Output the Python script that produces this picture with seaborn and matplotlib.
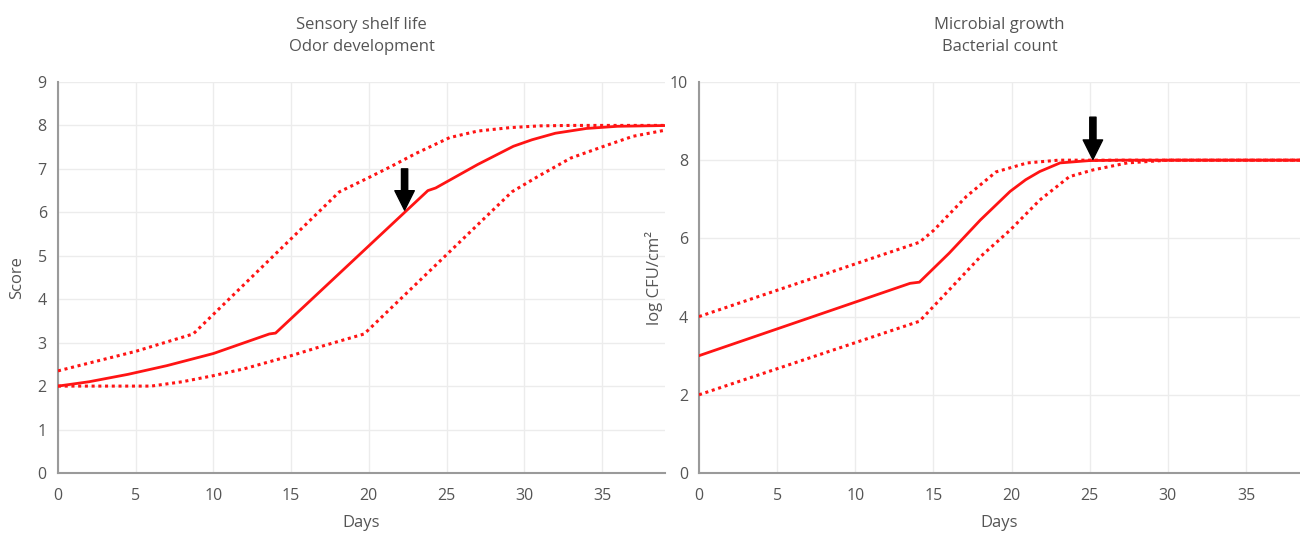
import matplotlib
matplotlib.use("Agg")
import matplotlib.pyplot as plt
import seaborn as sns

# Sensory shelf life - odor score
odor_days = [0, 2, 4.5, 7, 10, 12, 13.6, 14, 23.8, 24.3, 27, 29.3, 30.5, 32, 34, 36, 39.5]
odor_mid = [2.0, 2.1, 2.27, 2.47, 2.75, 3.0, 3.2, 3.22, 6.5, 6.56, 7.1, 7.52, 7.67, 7.82, 7.93, 7.98, 8.0]
odor_up_days = [0, 5, 8.7, 18.1, 20, 21.4, 23, 25.2, 27, 29.1, 31, 33, 39.5]
odor_up = [2.35, 2.8, 3.2, 6.47, 6.8, 7.05, 7.35, 7.72, 7.87, 7.95, 7.99, 8.0, 8.0]
odor_lo_days = [0, 6, 8, 10, 12, 15, 17, 19.7, 29.2, 31, 33, 35.2, 37, 39.5]
odor_lo = [2.0, 2.0, 2.1, 2.24, 2.4, 2.7, 2.92, 3.2, 6.47, 6.85, 7.25, 7.53, 7.75, 7.92]

# Microbial growth - bacterial count
cfu_days = [0, 13.5, 14.1, 16, 18, 19.9, 20.9, 21.8, 23.1, 25, 27, 39.5]
cfu_mid = [3.0, 4.85, 4.88, 5.62, 6.47, 7.2, 7.5, 7.71, 7.93, 7.99, 8.0, 8.0]
cfu_up_days = [0, 14.1, 15, 17.1, 19, 21, 23, 39.5]
cfu_up = [4.0, 5.9, 6.2, 7.07, 7.7, 7.93, 8.0, 8.0]
cfu_lo_days = [0, 14.1, 16, 18, 19.9, 21.8, 23.7, 25.2, 27.4, 30, 39.5]
cfu_lo = [2.0, 3.88, 4.68, 5.53, 6.21, 6.98, 7.58, 7.75, 7.93, 8.0, 8.0]

sns.set_style("white")
plt.rcParams["font.family"] = ["Open Sans", "DejaVu Sans"]

red = "#ff1414"
txt = "#555555"

fig = plt.figure(figsize=(13, 5.33), dpi=100)
ax1 = fig.add_axes([0.0446, 0.1126, 0.467, 0.7336])
ax2 = fig.add_axes([0.5377, 0.1126, 0.4623, 0.7336])


def draw(ax, days, mid, up_days, up, lo_days, lo):
    sns.lineplot(x=days, y=mid, ax=ax, color=red, lw=2, zorder=3)
    sns.lineplot(x=up_days, y=up, ax=ax, color=red, lw=2.2, linestyle=(0, (1, 1.2)), zorder=3)
    sns.lineplot(x=lo_days, y=lo, ax=ax, color=red, lw=2.2, linestyle=(0, (1, 1.2)), zorder=3)


draw(ax1, odor_days, odor_mid, odor_up_days, odor_up, odor_lo_days, odor_lo)
draw(ax2, cfu_days, cfu_mid, cfu_up_days, cfu_up, cfu_lo_days, cfu_lo)

ax1.set_xlim(0, 39.06)
ax1.set_ylim(0, 9)
ax1.set_yticks(range(0, 10))
ax2.set_xlim(0, 38.45)
ax2.set_ylim(0, 10)
ax2.set_yticks(range(0, 11, 2))

for ax in (ax1, ax2):
    ax.set_xticks(range(0, 40, 5))
    ax.grid(True, color="#ececec", lw=1)
    ax.set_axisbelow(True)
    for s in ("top", "right"):
        ax.spines[s].set_visible(False)
    for s in ("left", "bottom"):
        ax.spines[s].set_color("#9a9a9a")
        ax.spines[s].set_linewidth(1.5)
    ax.tick_params(axis="x", length=0, labelsize=11.5, labelcolor=txt, pad=11)
    ax.tick_params(axis="y", length=0, labelsize=11.5, labelcolor=txt, pad=8)
    ax.set_xlabel("Days", fontsize=12, color=txt, labelpad=8)
    ax.patch.set_alpha(0)

ax1.set_ylabel("Score", fontsize=12, color=txt, labelpad=9)
ax2.set_ylabel("log CFU/cm²", fontsize=12, color=txt, labelpad=5)
ax1.set_title("Sensory shelf life\nOdor development", fontsize=12, color=txt, pad=22, linespacing=1.5)
ax2.set_title("Microbial growth\nBacterial count", fontsize=12, color=txt, pad=22, linespacing=1.5)

arrow = dict(facecolor="black", edgecolor="black", width=4.5, headwidth=14, headlength=14)
ax1.annotate("", xy=(22.3, 6.05), xytext=(22.3, 7.0), arrowprops=arrow)
ax2.annotate("", xy=(25.2, 8.02), xytext=(25.2, 9.1), arrowprops=arrow)

fig.savefig("out.png", dpi=100)
